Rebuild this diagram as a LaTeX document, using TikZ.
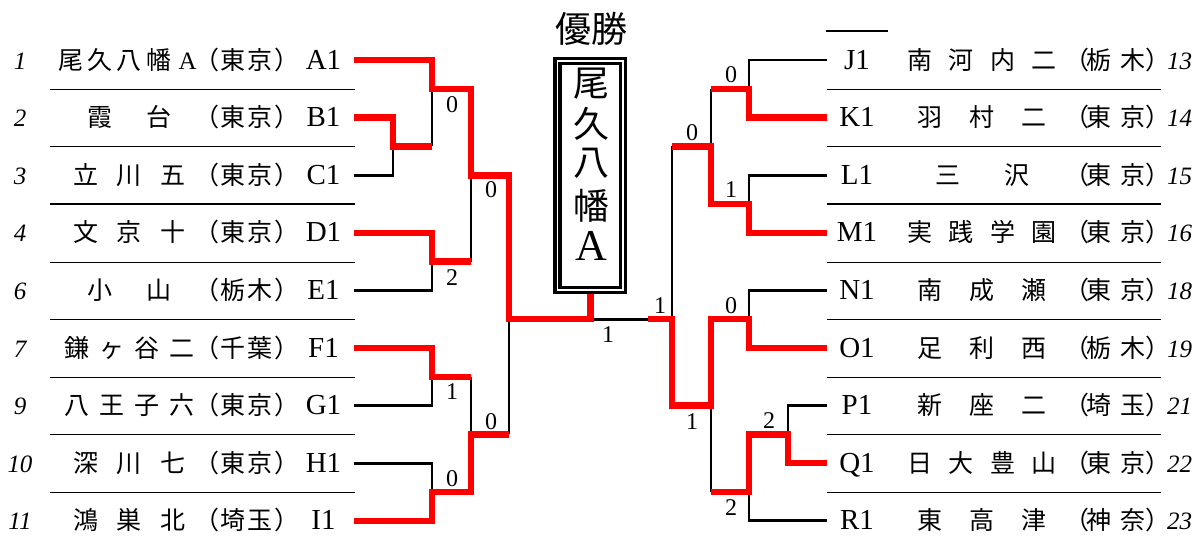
\documentclass[tikz,border=0pt]{standalone}
\usepackage{fontspec}
\setmainfont{Liberation Serif}
\newfontfamily\jp{Noto Sans CJK JP}
\newcommand\LRow[5]{%
 \pgfmathsetmacro\ry{69+57.6*#1}%
 \node[num] (lnum#1) at (20,\ry) {#2};
 \node[nm] (lname#1) at (54.2,\ry) {\makebox[150pt]{#3}};
 \node[nm] (lpref#1) at (205.8,\ry) {\makebox[13pt][r]{（}\kern2pt #4\kern2pt\makebox[13pt][l]{）}};
 \node[code] (lcode#1) at (323.5,\ry) {#5};
}
\newcommand\RRow[5]{%
 \pgfmathsetmacro\ry{69+57.6*#1}%
 \node[code] (rcode#1) at (857,\ry) {#2};
 \node[nm] (rname#1) at (890.7,\ry) {\makebox[182.3pt]{#3}};
 \node[nm] (rpref#1) at (1076.5,\ry) {\makebox[13pt][r]{（}\kern-3pt #4\kern0.5pt\makebox[13pt][l]{）}};
 \node[num] (rnum#1) at (1179.5,\ry) {#5};
}
\begin{document}
\begin{tikzpicture}[x=1pt,y=-1pt,
  sep/.style={line width=1.3pt},
  bk/.style={line width=2.7pt, line join=miter},
  rd/.style={line width=6.5pt, draw=red, line join=miter},
  num/.style={font=\fontsize{25}{25}\selectfont\itshape, anchor=base, inner sep=0pt},
  code/.style={font=\fontsize{29}{29}\selectfont, anchor=base, inner sep=0pt},
  nm/.style={font=\fontsize{25}{25}\selectfont\jp, anchor=base west, inner sep=0pt},
  sc/.style={font=\fontsize{24}{24}\selectfont, inner sep=0pt},
  big/.style={font=\fontsize{36}{36}\selectfont\jp, inner sep=0pt},
]
\useasboundingbox (0,0) rectangle (1197,544);

% separator lines
\foreach \y in {89.3,146.5,204,262.3,319.3,377.3,434.3,492.2} {
  \draw[sep] (50,\y) -- (355,\y);
  \draw[sep] (827,\y) -- (1160.7,\y);
}
\draw[sep] (826,31) -- (887.7,31);

% left rows
\LRow{0}{1}{\hfill 尾\hfill 久\hfill 八\hfill 幡\hfill\makebox[25pt]{\rmfamily A}\hfill}{東\kern2pt 京}{A1}
\LRow{1}{2}{\hfill 霞\hfill 台\hfill}{東\kern2pt 京}{B1}
\LRow{2}{3}{\hfill 立\hfill 川\hfill 五\hfill}{東\kern2pt 京}{C1}
\LRow{3}{4}{\hfill 文\hfill 京\hfill 十\hfill}{東\kern2pt 京}{D1}
\LRow{4}{6}{\hfill 小\hfill 山\hfill}{栃\kern2pt 木}{E1}
\LRow{5}{7}{\hfill 鎌\hfill ヶ\hfill 谷\hfill 二\hfill}{千\kern2pt 葉}{F1}
\LRow{6}{9}{\hfill 八\hfill 王\hfill 子\hfill 六\hfill}{東\kern2pt 京}{G1}
\LRow{7}{10}{\hfill 深\hfill 川\hfill 七\hfill}{東\kern2pt 京}{H1}
\LRow{8}{11}{\hfill 鴻\hfill 巣\hfill 北\hfill}{埼\kern2pt 玉}{I1}

% right rows
\RRow{0}{J1}{\hfill 南\hfill 河\hfill 内\hfill 二\hfill}{栃\kern8.5pt 木}{13}
\RRow{1}{K1}{\hfill 羽\hfill 村\hfill 二\hfill}{東\kern8.5pt 京}{14}
\RRow{2}{L1}{\hfill 三\hfill 沢\hfill}{東\kern8.5pt 京}{15}
\RRow{3}{M1}{\hfill 実\hfill 践\hfill 学\hfill 園\hfill}{東\kern8.5pt 京}{16}
\RRow{4}{N1}{\hfill 南\hfill 成\hfill 瀬\hfill}{東\kern8.5pt 京}{18}
\RRow{5}{O1}{\hfill 足\hfill 利\hfill 西\hfill}{栃\kern8.5pt 木}{19}
\RRow{6}{P1}{\hfill 新\hfill 座\hfill 二\hfill}{埼\kern8.5pt 玉}{21}
\RRow{7}{Q1}{\hfill 日\hfill 大\hfill 豊\hfill 山\hfill}{東\kern8.5pt 京}{22}
\RRow{8}{R1}{\hfill 東\hfill 高\hfill 津\hfill}{神\kern8.5pt 奈}{23}

% team line ends
\foreach \n/\i in {A/0,B/1,C/2,D/3,E/4,F/5,G/6,H/7,I/8}
  \coordinate (\n) at (354,60+57.6*\i);
\foreach \n/\i in {J/0,K/1,L/2,M/3,N/4,O/5,P/6,Q/7,R/8}
  \coordinate (\n) at (827,60+57.6*\i);

% junctions
\coordinate (mBC) at (393,146.4);
\coordinate (mABC) at (432,89);
\coordinate (mDE) at (432,261.6);
\coordinate (mFG) at (432,376.8);
\coordinate (mHI) at (432,492);
\coordinate (mAE) at (471,175.3);
\coordinate (mFI) at (471,434.4);
\coordinate (mL) at (509,319.2);
\coordinate (mR) at (672,319.2);
\coordinate (fR) at (648,319.2);
\coordinate (mJK) at (749,88.8);
\coordinate (mLM) at (749,204);
\coordinate (mNO) at (749,319.2);
\coordinate (mPQ) at (788,434.4);
\coordinate (mPQR) at (749,492);
\coordinate (mJM) at (711,146.4);
\coordinate (mNR) at (711,405.6);

% winner box
\node[big] (title) at (591,29) {優勝};
\node[draw, double, double distance=1.7pt, line width=3.3pt,
      minimum width=65.85pt, minimum height=229.15pt,
      inner sep=0pt, outer sep=4.15pt] (win) at (590.4,175.4) {};
\node[big] (w1) at (591.5,84) {尾};
\node[big] (w2) at (591.5,123.5) {久};
\node[big] (w3) at (591.5,163) {八};
\node[big] (w4) at (591.5,205.5) {幡};
\node[font=\fontsize{44}{44}\selectfont, inner sep=0pt] (w5) at (591.5,246) {A};

% black lines
\draw[bk] (C) -| (mBC);
\draw[bk] (mABC) -- (mABC |- mBC);
\draw[bk] (E) -| (mDE);
\draw[bk] (mAE) -- (mAE |- mDE);
\draw[bk] (G) -| (mFG);
\draw[bk] (H) -| (mHI);
\draw[bk] (mFI) -- (mFI |- mFG);
\draw[bk] (mL) -- (mL |- mFI);
\draw[bk] (win.south |- mL) -- (fR);
\draw[bk] (J) -| (mJK);
\draw[bk] (L) -| (mLM);
\draw[bk] (mJM) -- (mJM |- mJK);
\draw[bk] (mR) -- (mR |- mJM);
\draw[bk] (N) -| (mNO);
\draw[bk] (P) -| (mPQ);
\draw[bk] (R) -| (mPQR);
\draw[bk] (mNR) -- (mNR |- mPQR);

% red lines
\draw[rd] (A) -| (mABC) -| (mAE) -| (mL) -| (win.south);
\draw[rd] (B) -| (mBC) -- (mBC -| mABC);
\draw[rd] (D) -| (mDE) -- (mDE -| mAE);
\draw[rd] (F) -| (mFG) -- (mFG -| mFI);
\draw[rd] (I) -| (mHI) -| (mFI) -- (mFI -| mL);
\draw[rd] (K) -| (mJK) -- (mJK -| mJM);
\draw[rd] (M) -| (mLM) -| (mJM) -- (mJM -| mR);
\draw[rd] (O) -| (mNO) -| (mNR) -| (mR) -- (fR);
\draw[rd] (Q) -| (mPQ) -| (mPQR) -- (mPQR -| mNR);

% scores
\node[sc] (s1) at (452,105) {0};
\node[sc] (s2) at (491,190) {0};
\node[sc] (s3) at (452,278) {2};
\node[sc] (s4) at (452,392) {1};
\node[sc] (s5) at (452,479) {0};
\node[sc] (s6) at (491,422) {0};
\node[sc] (s7) at (608,335) {1};
\node[sc] (s8) at (660,306) {1};
\node[sc] (s9) at (692,133) {0};
\node[sc] (s10) at (731,75) {0};
\node[sc] (s11) at (731,190) {1};
\node[sc] (s12) at (731,306) {0};
\node[sc] (s13) at (692,422) {1};
\node[sc] (s14) at (769,421) {2};
\node[sc] (s15) at (731,508) {2};
\end{tikzpicture}
\end{document}
